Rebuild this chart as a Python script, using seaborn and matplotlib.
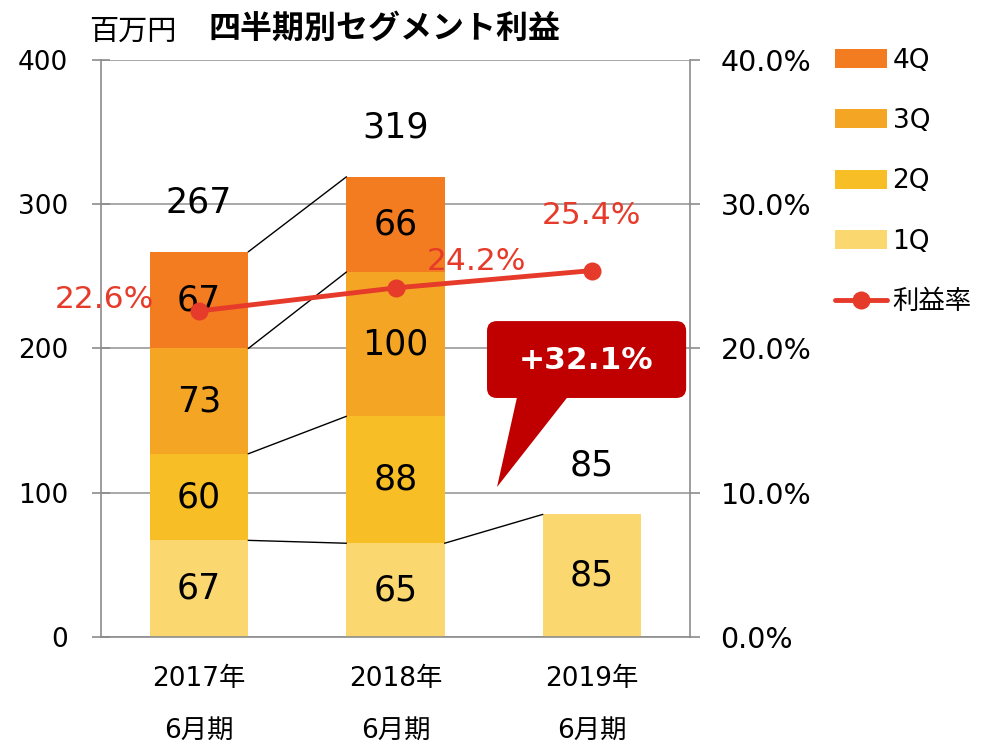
import numpy as np
import pandas as pd
import matplotlib
matplotlib.use("Agg")
import matplotlib.pyplot as plt
import seaborn as sns
from matplotlib.patches import Patch, FancyBboxPatch, Polygon
from matplotlib.lines import Line2D

# ======================
# DATA
# ======================
periods = ["2017年\n6月期", "2018年\n6月期", "2019年\n6月期"]
q1 = [67, 65, 85]
q2 = [60, 88, 0]
q3 = [73, 100, 0]
q4 = [67, 66, 0]
margin = [22.6, 24.2, 25.4]
growth_label = "+32.1%"

quarters = ["1Q", "2Q", "3Q", "4Q"]
colors = {"1Q": "#FAD86F", "2Q": "#F8BE26", "3Q": "#F5A524", "4Q": "#F37C20"}
line_color = "#E63B2A"
axis_grey = "#8c8c8c"

sns.set_theme(style="white")
# Verdana-like digits, CJK fallback
plt.rcParams["font.family"] = ["DejaVu Sans", "Noto Sans CJK JP"]
plt.rcParams["text.color"] = "black"
plt.rcParams["xtick.labelcolor"] = "black"
plt.rcParams["ytick.labelcolor"] = "black"

df = pd.DataFrame({"period": periods, "1Q": q1, "2Q": q2, "3Q": q3, "4Q": q4})
cum = df[quarters].cumsum(axis=1)
totals = cum["4Q"].tolist()

fig = plt.figure(figsize=(9.83, 7.46), dpi=100)
ax = fig.add_axes([0.1027, 0.1461, 0.5993, 0.7735])

# stacked bars: draw cumulative totals from the top down
for q in reversed(quarters):
    sns.barplot(x=df["period"], y=cum[q], order=periods, color=colors[q],
                width=0.5, saturation=1, linewidth=0, edgecolor="none", ax=ax, zorder=2)

ax.set_ylim(0, 400)
ax.set_xlim(-0.5, 2.5)
ax.set_yticks([0, 100, 200, 300, 400])
ax.set_xlabel("")
ax.set_ylabel("")
ax.yaxis.grid(True, color="#9a9a9a", linewidth=1.2, zorder=0)
ax.set_axisbelow(True)
for s in ["left", "bottom", "right"]:
    ax.spines[s].set_color(axis_grey)
    ax.spines[s].set_linewidth(1.2)
ax.spines["top"].set_visible(False)

ax.set_xticks([0, 1, 2])
ax.set_xticklabels(periods, linespacing=2.3)
ax.set_xticks([-0.5, 0.5, 1.5, 2.5], minor=True)
ax.tick_params(axis="x", which="major", length=0, pad=21, labelsize=19)
ax.tick_params(axis="x", which="minor", length=7.5, width=1.2, color=axis_grey, direction="out")
ax.tick_params(axis="y", length=13, width=1.2, color=axis_grey, direction="inout",
               pad=17, labelsize=19, left=True)

# segment labels
for i in range(len(periods)):
    bottom = 0
    for q in quarters:
        v = df.loc[i, q]
        if v > 0:
            ax.text(i, bottom + v / 2, str(v), ha="center", va="center", fontsize=25, zorder=5)
        bottom += v
    ax.text(i, totals[i] + 34, str(totals[i]), ha="center", va="center", fontsize=25, zorder=5)

# connector lines between stacks
hw = 0.25
for q in quarters:
    ax.plot([0 + hw, 1 - hw], [cum.loc[0, q], cum.loc[1, q]], color="black", lw=1, zorder=3)
ax.plot([1 + hw, 2 - hw], [cum.loc[1, "1Q"], cum.loc[2, "1Q"]], color="black", lw=1, zorder=3)

# margin line on the right axis
ax2 = ax.twinx()
sns.lineplot(x=[0, 1, 2], y=margin, ax=ax2, color=line_color, lw=3.5, marker="o",
             markersize=13, markeredgewidth=0, zorder=6)
ax2.set_ylim(0, 40)
ax2.set_xlim(-0.5, 2.5)
ax2.set_yticks([0, 10, 20, 30, 40])
ax2.set_yticklabels([f"{t:.1f}%" for t in [0, 10, 20, 30, 40]])
ax2.set_ylabel("")
ax2.tick_params(axis="y", length=7, width=1.2, color=axis_grey, direction="out",
                pad=15, labelsize=20.5, right=True)
for s in ax2.spines.values():
    s.set_visible(False)

pct_offsets = [(-0.48, 0.8), (0.41, 1.8), (0.0, 3.8)]
for i, m in enumerate(margin):
    dx, dy = pct_offsets[i]
    ax2.text(i + dx, m + dy, f"{m:.1f}%", color=line_color, fontsize=22.5,
             ha="center", va="center", zorder=7)

# callout bubble
box = FancyBboxPatch((1.466, 165.7), 1.014, 53.3, boxstyle="round,pad=0,rounding_size=0.05",
                     mutation_aspect=136, facecolor="#C00000", edgecolor="none", zorder=8)
ax.add_patch(box)
tail = Polygon([(1.62, 167), (1.88, 167), (1.517, 104)], closed=True,
               facecolor="#C00000", edgecolor="none", zorder=8)
ax.add_patch(tail)
ax.text(1.971, 192, growth_label, color="white", fontsize=22.5, fontweight="bold",
        ha="center", va="center", zorder=9)

# titles
fig.text(0.091, 0.958, "百万円", fontsize=21, va="center", ha="left")
fig.text(0.212, 0.961, "四半期別セグメント利益", fontsize=23, fontweight="bold",
         va="center", ha="left")

# legend
handles = [Patch(facecolor=colors[q], edgecolor="none") for q in reversed(quarters)]
handles.append(Line2D([0], [0], color=line_color, lw=3.5, marker="o", markersize=13,
                      markeredgewidth=0))
labels = list(reversed(quarters)) + ["利益率"]
fig.legend(handles, labels, loc="upper left", bbox_to_anchor=(0.849, 0.936), frameon=False,
           fontsize=19, labelspacing=1.3, handlelength=2.0, handleheight=0.72,
           handletextpad=0.2, borderpad=0, borderaxespad=0)

plt.savefig("out.png", dpi=100)
